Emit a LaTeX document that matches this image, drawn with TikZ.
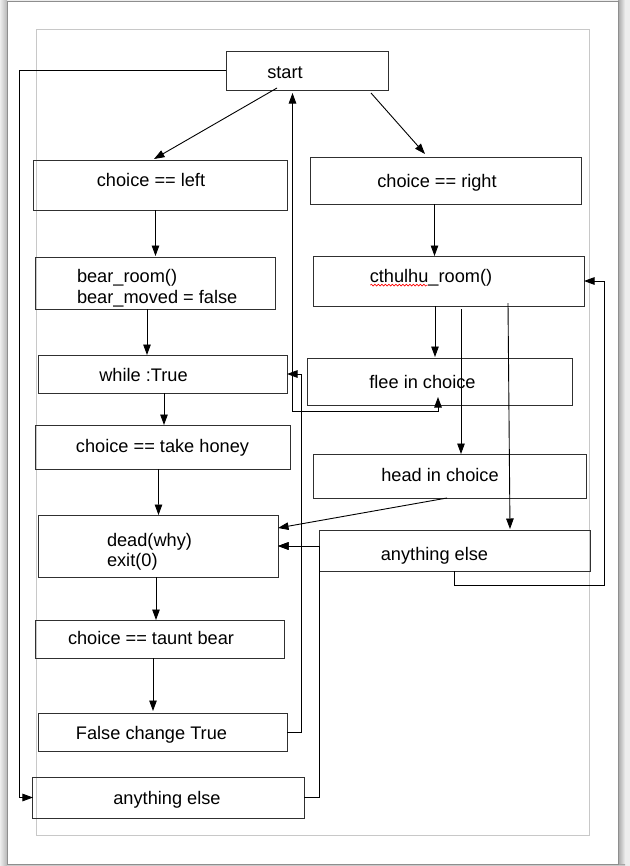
\documentclass[tikz,border=0pt]{standalone}
\usepackage{fontspec}
\setmainfont{Liberation Sans}
\usetikzlibrary{arrows.meta,calc,decorations.pathmorphing}
\definecolor{bgcol}{HTML}{EDEDED}
\definecolor{pagecol}{HTML}{8E8E8E}
\definecolor{margcol}{HTML}{C8C8C8}
\definecolor{boxcol}{HTML}{303030}
\begin{document}
\begin{tikzpicture}[x=1bp,y=-1bp,
  box/.style={draw=boxcol, line width=1bp, inner sep=0pt, outer sep=0pt, rectangle},
  txt/.style={inner sep=0pt, outer sep=0pt, font=\fontsize{18.2bp}{21bp}\selectfont, text=black},
  arr/.style={draw=black, line width=0.9bp, -{Triangle[length=10.5bp,width=7.5bp]}},
  arrtwo/.style={draw=black, line width=0.9bp, {Triangle[length=10.5bp,width=7.5bp]}-{Triangle[length=10.5bp,width=7.5bp]}},
  line/.style={draw=black, line width=0.9bp}]
\useasboundingbox (0,0) rectangle (630,866);
% page background
\fill[bgcol] (0,0) rectangle (630,866);
\shade[left color=bgcol, right color=black!28] (0,0) rectangle (7,866);
\shade[left color=black!35, right color=bgcol] (618,0) rectangle (625,866);
\shade[top color=black!35, bottom color=bgcol] (7,864) rectangle (625,866);
\draw[pagecol, fill=white, line width=1bp] (7,1) rectangle (618,864);
\draw[margcol, line width=1bp] (36.5,29) rectangle (589,835);

% column coordinates
\coordinate (c19) at (19,0);
\coordinate (c292) at (292.5,0);
\coordinate (c301) at (301,0);
\coordinate (c604) at (604,0);

% boxes
\node[box, minimum width=162bp, minimum height=39bp] (start) at (307,70.5) {};
\node[box, minimum width=253bp, minimum height=50bp] (cleft) at (160.5,185) {};
\node[box, minimum width=271bp, minimum height=47bp] (cright) at (445.5,180.5) {};
\node[box, minimum width=239bp, minimum height=52bp] (bear) at (155.5,283) {};
\node[box, minimum width=248bp, minimum height=38bp] (while) at (163,374) {};
\node[box, minimum width=254bp, minimum height=44bp] (honey) at (163,447) {};
\node[box, minimum width=239bp, minimum height=62bp] (dead) at (158.5,546) {};
\node[box, minimum width=248bp, minimum height=38bp] (taunt) at (160,639) {};
\node[box, minimum width=248bp, minimum height=38bp] (false) at (163,732) {};
\node[box, minimum width=271bp, minimum height=41bp] (anyb) at (168.5,797.5) {};
\node[box, minimum width=271bp, minimum height=50bp] (cthulhu) at (448.5,281) {};
\node[box, minimum width=265bp, minimum height=47bp] (flee) at (439.5,381.5) {};
\node[box, minimum width=273bp, minimum height=44bp] (head) at (449.5,476) {};
\node[box, minimum width=271bp, minimum height=41bp] (anyr) at (454.5,550.5) {};

% texts
\node[txt, anchor=base] (startT) at (285,78) {start};
\node[txt, anchor=base] (cleftT) at (151,186.6) {choice == left};
\node[txt, anchor=base] (crightT) at (437,187.5) {choice == right};
\node[txt, anchor=base west] (bearTa) at (77,282.5) {bear\_room()};
\node[txt, anchor=base west] (bearTb) at (77,303.5) {bear\_moved = false};
\node[txt, anchor=base] (whileT) at (143.5,381) {while :True};
\node[txt, anchor=base] (honeyT) at (162.5,452.5) {choice == take honey};
\node[txt, anchor=base west] (deadTa) at (107,546) {dead(why)};
\node[txt, anchor=base west] (deadTb) at (107,566) {exit(0)};
\node[txt, anchor=base] (tauntT) at (151,644) {choice == taunt bear};
\node[txt, anchor=base] (falseT) at (151.5,739) {False change True};
\node[txt, anchor=base] (anybT) at (167,804) {anything else};
\node[txt, anchor=base] (cthulhuT) at (431,282.6) {cthulhu\_room()};
\node[txt, anchor=base] (fleeT) at (422.5,388) {flee in choice};
\node[txt, anchor=base] (headT) at (440,481.5) {head in choice};
\node[txt, anchor=base] (anyrT) at (434.5,560.5) {anything else};
\draw[red, line width=0.6bp, decorate, decoration={snake, amplitude=0.9bp, segment length=3.5bp}]
  ($(cthulhuT.base west)+(0.5,2.5)$) -- ($(cthulhuT.base west)+(58,2.5)$);

% connectors
\draw[arr] ([shift={(-30,-2)}]start.south) -- ([shift={(-6.5,-1)}]cleft.north);
\draw[arr] ([shift={(64,3)}]start.south) -- ([shift={(-20.5,-3)}]cright.north);
\draw[arr] (start.west) -- (start.west -| c19) |- (anyb.west);
\draw[arr] ([shift={(-5,0)}]cleft.south) -- ([shift={(0,-1)}]bear.north);
\draw[arr] ([shift={(-8.5,0)}]bear.south) -- ([shift={(-16,0)}]while.north);
\draw[arr] ([shift={(1,0)}]while.south) -- ([shift={(1,0)}]honey.north);
\draw[arr] ([shift={(-4.5,0)}]honey.south) -- (dead.north);
\draw[arr] ([shift={(-2.5,0)}]dead.south) -- ([shift={(-4,0)}]taunt.north);
\draw[arr] ([shift={(-7,0)}]taunt.south) -- ([shift={(-10,-2)}]false.north);
\draw[arr] (false.east) -- (false.east -| c301) |- (while.east);
\coordinate (fleeIn) at ($(flee.south)+(-1.5,-8)$);
\draw[arrtwo] (fleeIn) -- ++(0,14) -| ([shift={(0,3)}]start.south -| c292);
\draw[arr] ([shift={(-11,0)}]cright.south) -- ([shift={(-14,0)}]cthulhu.north);
\draw[arr] ([shift={(-13.5,0)}]cthulhu.south) -- ([shift={(-4.5,-1)}]flee.north);
\draw[arr] ([shift={(12.5,3)}]cthulhu.south) -- ([shift={(11.5,0)}]head.north);
\draw[arr] ([shift={(59.5,-3)}]cthulhu.south) -- ([shift={(55.5,-1)}]anyr.north);
\draw[arr] ([shift={(-2.5,0)}]head.south) -- ([shift={(0,-18)}]dead.east);
\draw[arr] (anyr.west |- dead.east) -- (dead.east);
\draw[arr] (anyb.east) -- (anyb.east -| anyr.west) |- (dead.east);
\draw[arr] (anyr.south) -- ++(0,14) -| (cthulhu.east -| c604) -- (cthulhu.east);
\end{tikzpicture}
\end{document}
